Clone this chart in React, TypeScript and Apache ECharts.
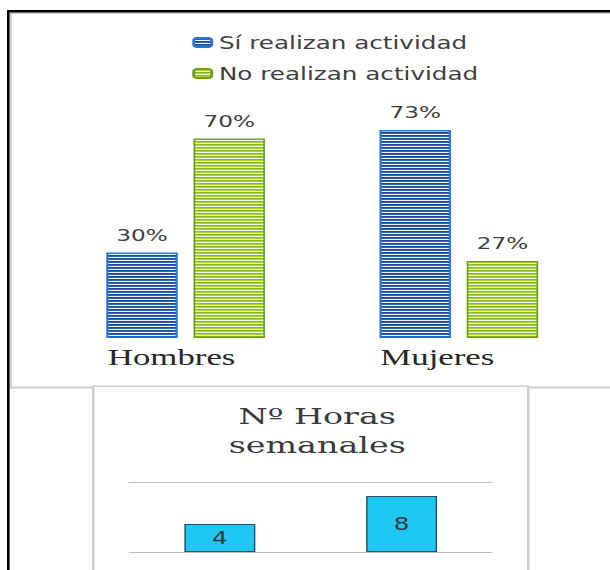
import React, { useEffect, useRef } from "react";
import * as echarts from "echarts";

// ---- data ----
const categories = ["Hombres", "Mujeres"];
const siRealizan = [30, 73];
const noRealizan = [70, 27];
const seriesNames = ["Sí realizan actividad", "No realizan actividad"];
const horasCategories = ["Hombres", "Mujeres"];
const horasSemanales = [4, 8];
const horasTitle = "Nº Horas\nsemanales";

// the reference is horizontally stretched
const S = 1.45;
const X = (v: number) => v / S;

function stripes(colors: string[]): HTMLCanvasElement {
  const c = document.createElement("canvas");
  c.width = 4;
  c.height = colors.length;
  const ctx = c.getContext("2d")!;
  colors.forEach((col, i) => {
    ctx.fillStyle = col;
    ctx.fillRect(0, i, 4, 1);
  });
  return c;
}

export default function App() {
  const ref = useRef<HTMLDivElement>(null);

  useEffect(() => {
    if (!ref.current) return;
    const chart = echarts.init(ref.current, null, { renderer: "svg" });
    const bluePattern = stripes(["#1b4c9c", "#2f63b6", "#f2f5fb"]);
    const greenPattern = stripes(["#86bb1a", "#a9d636", "#f6fbe8"]);
    const gray = "#cfcfcf";
    const rect = (x: number, y: number, w: number, h: number, fill: string, z: number) => ({
      type: "rect",
      z,
      silent: true,
      shape: { x: X(x), y, width: X(w), height: h },
      style: { fill },
    });

    const labelFont = { fontFamily: "Liberation Serif", fontSize: 24, color: "#262626" };

    chart.setOption({
      animation: false,
      backgroundColor: "#ffffff",
      legend: {
        orient: "vertical",
        left: X(185),
        top: 29,
        itemWidth: X(18),
        itemHeight: 9,
        itemGap: 14,
        data: seriesNames,
        textStyle: { fontFamily: "DejaVu Sans", fontSize: 17, color: "#404040" },
      },
      title: {
        text: horasTitle,
        left: X(310),
        top: 396,
        textAlign: "center",
        textStyle: {
          fontFamily: "DejaVu Serif",
          fontSize: 23,
          fontWeight: "normal",
          color: "#3a3a3a",
          lineHeight: 29,
        },
      },
      grid: [
        { left: X(49), right: X(15), top: 53, bottom: 232 },
        { left: X(129), right: X(118), top: 482, bottom: 18 },
      ],
      xAxis: [
        {
          type: "category",
          gridIndex: 0,
          data: categories,
          axisLine: { show: false },
          axisTick: { show: false },
          axisLabel: {
            margin: 7,
            ...labelFont,
            formatter: (v: string) => (v === categories[0] ? `{h|${v}}` : `{m|${v}}`),
            rich: {
              h: { ...labelFont, padding: [0, X(28), 0, 0] },
              m: { ...labelFont, padding: [0, X(43), 0, 0] },
            },
          },
        },
        {
          type: "category",
          gridIndex: 1,
          data: horasCategories,
          axisLine: { show: false },
          axisTick: { show: false },
          axisLabel: { show: false },
        },
      ],
      yAxis: [
        { type: "value", gridIndex: 0, min: 0, max: 100, show: false },
        {
          type: "value",
          gridIndex: 1,
          min: 0,
          max: 10,
          interval: 10,
          z: 3,
          axisLabel: { show: false },
          axisLine: { show: false },
          axisTick: { show: false },
          splitLine: { lineStyle: { color: "#bdbdbd", width: 1 } },
        },
      ],
      series: [
        {
          name: seriesNames[0],
          type: "bar",
          xAxisIndex: 0,
          yAxisIndex: 0,
          data: siRealizan,
          barWidth: X(71.5),
          barGap: "22%",
          itemStyle: {
            color: { image: bluePattern, repeat: "repeat" },
            borderColor: "#2b74d8",
            borderWidth: 1.5,
          },
          label: {
            show: true,
            position: "top",
            distance: 9,
            formatter: "{c}%",
            fontFamily: "DejaVu Sans",
            fontSize: 16,
            color: "#404040",
          },
        },
        {
          name: seriesNames[1],
          type: "bar",
          xAxisIndex: 0,
          yAxisIndex: 0,
          data: noRealizan,
          barWidth: X(71.5),
          barGap: "22%",
          itemStyle: {
            color: { image: greenPattern, repeat: "repeat" },
            borderColor: "#6f9e1e",
            borderWidth: 1.2,
          },
          label: {
            show: true,
            position: "top",
            distance: 9,
            formatter: "{c}%",
            fontFamily: "DejaVu Sans",
            fontSize: 16,
            color: "#404040",
          },
        },
        {
          name: "Horas",
          type: "bar",
          xAxisIndex: 1,
          yAxisIndex: 1,
          data: horasSemanales,
          barWidth: X(71),
          z: 4,
          itemStyle: { color: "#1fc8f4", borderColor: "#24506a", borderWidth: 1 },
          label: {
            show: true,
            position: "inside",
            fontFamily: "DejaVu Sans",
            fontSize: 17,
            color: "#383838",
          },
        },
      ],
      graphic: {
        elements: [
          // top chart frame
          rect(10, 12, 2, 377, gray, 0),
          rect(10, 12.5, 600, 1.5, gray, 0),
          rect(10, 386.5, 600, 2, gray, 0),
          // bottom chart frame
          rect(92, 385.5, 437, 190, "#ffffff", 1),
          rect(92, 385.5, 2.5, 190, gray, 1.5),
          rect(92, 385.5, 437, 1.5, gray, 1.5),
          rect(527, 385.5, 2.5, 190, gray, 1.5),
          // outer black border
          rect(7, 10, 2.6, 560, "#000000", 5),
          rect(7, 10, 603, 2.6, "#000000", 5),
        ],
      },
    });
    return () => chart.dispose();
  }, []);

  return (
    <div
      ref={ref}
      style={{
        position: "fixed",
        left: 0,
        top: 0,
        width: 610 / S,
        height: 570,
        transform: `scaleX(${S})`,
        transformOrigin: "0 0",
        background: "#ffffff",
      }}
    />
  );
}
